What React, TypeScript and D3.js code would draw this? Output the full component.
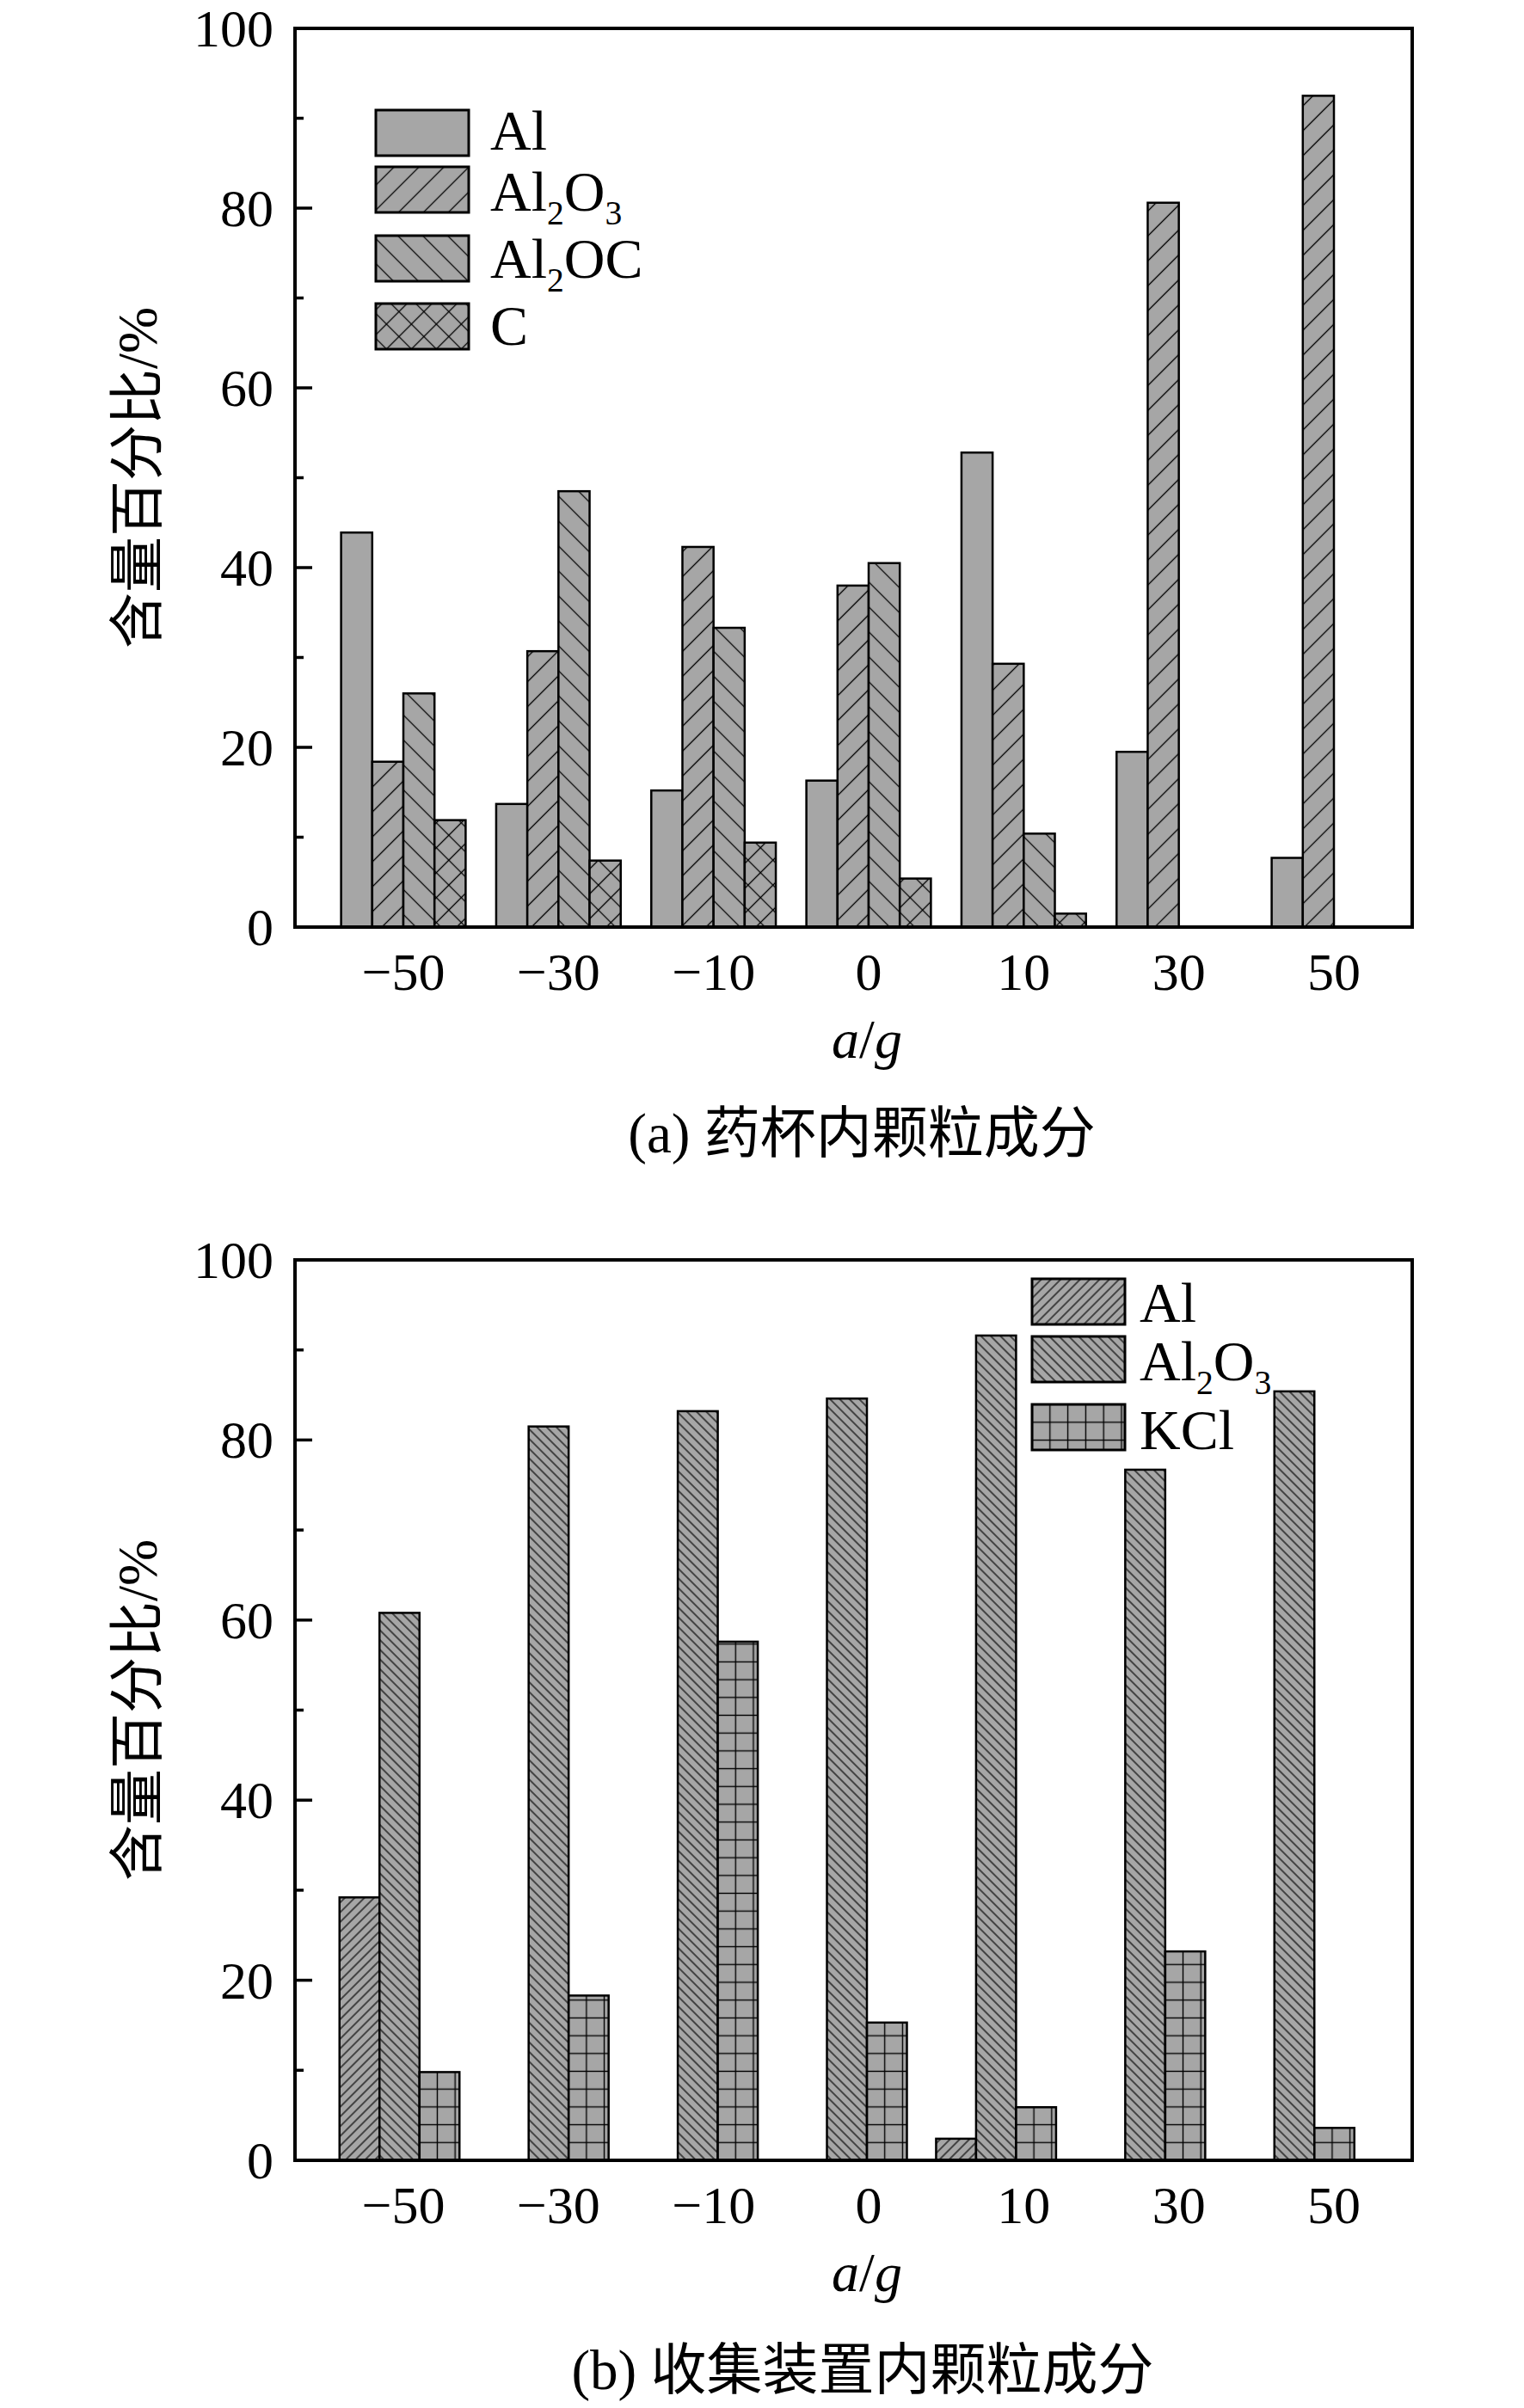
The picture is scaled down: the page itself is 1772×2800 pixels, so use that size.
import React from "react";
import * as d3 from "d3";

// ---------- data ----------
const categories = ["\u221250", "\u221230", "\u221210", "0", "10", "30", "50"];

// (a) 药杯内颗粒成分
const cupSeries = ["Al", "Al2O3", "Al2OC", "C"];
const cupAl = [43.9, 13.7, 15.2, 16.3, 52.8, 19.5, 7.7];
const cupAl2O3 = [18.4, 30.7, 42.3, 38.0, 29.3, 80.6, 92.5];
const cupAl2OC = [26.0, 48.5, 33.3, 40.5, 10.4, 0, 0];
const cupC = [11.9, 7.4, 9.4, 5.4, 1.5, 0, 0];

// (b) 收集装置内颗粒成分
const colSeries = ["Al", "Al2O3", "KCl"];
const colAl = [29.2, 0, 0, 0, 2.4, 0, 0];
const colAl2O3 = [60.8, 81.5, 83.2, 84.6, 91.6, 76.7, 85.4];
const colKCl = [9.8, 18.3, 57.6, 15.3, 5.9, 23.2, 3.6];

const yTicks = [0, 20, 40, 60, 80, 100];
const yMinorTicks = [10, 30, 50, 70, 90];

// ---------- style ----------
const W = 1772;
const H = 2800;
const FONT = "'Liberation Serif','Times New Roman','Noto Sans CJK SC',serif";
const GRAY = "#a6a6a6";
const LEFT = 343;
const RIGHT = 1642;

const panelA = { top: 33, bottom: 1078 };
const panelB = { top: 1465, bottom: 2512 };

// category label / panel (a) group centres
const xCat = d3.scaleLinear().domain([0, 6]).range([469, 1551]);
// panel (b) centre of the middle (Al2O3) bar
const xColB = d3.scaleLinear().domain([0, 6]).range([464.5, 1505]);

const barWA = 36.2;
const barWB = 46.5;

function ChemLabel({ name, x, y, size }: { name: string; x: number; y: number; size: number }) {
  const sub = size * 0.6;
  const dy = size * 0.24;
  if (name === "Al2O3") {
    return (
      <text x={x} y={y} fontFamily={FONT} fontSize={size}>
        Al
        <tspan fontSize={sub} dy={dy}>2</tspan>
        <tspan dy={-dy}>O</tspan>
        <tspan fontSize={sub} dy={dy}>3</tspan>
      </text>
    );
  }
  if (name === "Al2OC") {
    return (
      <text x={x} y={y} fontFamily={FONT} fontSize={size}>
        Al
        <tspan fontSize={sub} dy={dy}>2</tspan>
        <tspan dy={-dy}>OC</tspan>
      </text>
    );
  }
  return (
    <text x={x} y={y} fontFamily={FONT} fontSize={size}>
      {name}
    </text>
  );
}

function HatchPattern({ id, spacing, angle, sw, cross }: { id: string; spacing: number; angle: number; sw: number; cross?: boolean }) {
  return (
    <pattern id={id} patternUnits="userSpaceOnUse" width={spacing} height={spacing} patternTransform={`rotate(${angle})`}>
      <rect width={spacing} height={spacing} fill={GRAY} />
      <line x1={spacing / 2} y1={-1} x2={spacing / 2} y2={spacing + 1} stroke="#000" strokeWidth={sw} />
      {cross && <line x1={-1} y1={spacing / 2} x2={spacing + 1} y2={spacing / 2} stroke="#000" strokeWidth={sw} />}
    </pattern>
  );
}

function GridPattern({ id, x0, y0, s }: { id: string; x0: number; y0: number; s: number }) {
  return (
    <pattern id={id} patternUnits="userSpaceOnUse" width={s} height={s} patternTransform={`translate(${x0 - s / 2},${y0 - s / 2})`}>
      <rect width={s} height={s} fill={GRAY} />
      <line x1={s / 2} y1={-1} x2={s / 2} y2={s + 1} stroke="#000" strokeWidth={1.4} />
      <line x1={-1} y1={s / 2} x2={s + 1} y2={s / 2} stroke="#000" strokeWidth={1.4} />
    </pattern>
  );
}

function Axes({ top, bottom, y }: { top: number; bottom: number; y: d3.ScaleLinear<number, number> }) {
  return (
    <g>
      {yTicks.map((t) => (
        <g key={"t" + t}>
          <line x1={LEFT} x2={LEFT + 20} y1={y(t)} y2={y(t)} stroke="#000" strokeWidth={3.5} />
          <text x={318} y={y(t) + 21} textAnchor="end" fontFamily={FONT} fontSize={62}>
            {t}
          </text>
        </g>
      ))}
      {yMinorTicks.map((t) => (
        <line key={"m" + t} x1={LEFT} x2={LEFT + 10} y1={y(t)} y2={y(t)} stroke="#000" strokeWidth={3.5} />
      ))}
      <rect x={LEFT} y={top} width={RIGHT - LEFT} height={bottom - top} fill="none" stroke="#000" strokeWidth={4} />
      {categories.map((c, i) => (
        <text key={c} x={xCat(i)} y={bottom + 73} textAnchor="middle" fontFamily={FONT} fontSize={62}>
          {c}
        </text>
      ))}
      <text x={1008} y={bottom + 152} textAnchor="middle" fontFamily={FONT} fontSize={64}>
        <tspan fontStyle="italic">a</tspan>
        <tspan>/</tspan>
        <tspan fontStyle="italic">g</tspan>
      </text>
      <text
        transform={`translate(160,${(top + bottom) / 2}) rotate(-90)`}
        textAnchor="middle"
        dominantBaseline="central"
        fontFamily={FONT}
        fontSize={65}
      >
        含量百分比/%
      </text>
    </g>
  );
}

export default function App() {
  const yA = d3.scaleLinear().domain([0, 100]).range([panelA.bottom, panelA.top]);
  const yB = d3.scaleLinear().domain([0, 100]).range([panelB.bottom, panelB.top]);

  const cupData = [cupAl, cupAl2O3, cupAl2OC, cupC];
  const cupFills = [GRAY, "url(#pA1)", "url(#pA2)", "url(#pA3)"];
  const colData = [colAl, colAl2O3, colKCl];
  const colFills = ["url(#pB0)", "url(#pB1)", ""];

  const barsA: JSX.Element[] = [];
  cupData.forEach((vals, s) => {
    vals.forEach((v, i) => {
      if (v <= 0) return;
      const x0 = xCat(i) - 2 * barWA + s * barWA;
      barsA.push(
        <rect key={`a${s}-${i}`} x={x0} y={yA(v)} width={barWA} height={yA(0) - yA(v)} fill={cupFills[s]} stroke="#000" strokeWidth={2.5} />
      );
    });
  });

  const gridDefs: JSX.Element[] = [];
  const barsB: JSX.Element[] = [];
  colData.forEach((vals, s) => {
    vals.forEach((v, i) => {
      if (v <= 0) return;
      const x0 = xColB(i) - 1.5 * barWB + s * barWB;
      let fill = colFills[s];
      if (s === 2) {
        const id = `grid${i}`;
        gridDefs.push(<GridPattern key={id} id={id} x0={x0} y0={yB(0)} s={20.7} />);
        fill = `url(#${id})`;
      }
      barsB.push(
        <rect key={`b${s}-${i}`} x={x0} y={yB(v)} width={barWB} height={yB(0) - yB(v)} fill={fill} stroke="#000" strokeWidth={2.5} />
      );
    });
  });

  const legA = [
    { name: cupSeries[0], fill: cupFills[0], y0: 128, base: 174 },
    { name: cupSeries[1], fill: cupFills[1], y0: 194, base: 245 },
    { name: cupSeries[2], fill: cupFills[2], y0: 274, base: 323 },
    { name: cupSeries[3], fill: cupFills[3], y0: 353, base: 401 },
  ];
  const legB = [
    { name: colSeries[0], fill: "url(#pB0)", y0: 1487, base: 1537 },
    { name: colSeries[1], fill: "url(#pB1)", y0: 1554, base: 1605 },
    { name: colSeries[2], fill: "url(#gridLeg)", y0: 1633, base: 1685 },
  ];

  return (
    <svg width={W} height={H} style={{ position: "absolute", left: 0, top: 0, background: "#fff" }}>
      <defs>
        <HatchPattern id="pA1" spacing={20.5} angle={45} sw={1.3} />
        <HatchPattern id="pA2" spacing={20.5} angle={-45} sw={1.3} />
        <HatchPattern id="pA3" spacing={20.5} angle={45} sw={1.3} cross />
        <HatchPattern id="pB0" spacing={8} angle={45} sw={1.2} />
        <HatchPattern id="pB1" spacing={8} angle={-45} sw={1.2} />
        {gridDefs}
        <GridPattern id="gridLeg" x0={1200} y0={1633} s={20.8} />
      </defs>
      <rect width={W} height={H} fill="#fff" />

      {/* Panel (a) */}
      {barsA}
      <Axes top={panelA.top} bottom={panelA.bottom} y={yA} />
      {legA.map((l) => (
        <g key={"la" + l.name}>
          <rect x={437} y={l.y0} width={108} height={53} fill={l.fill} stroke="#000" strokeWidth={3} />
          <ChemLabel name={l.name} x={570} y={l.base} size={66} />
        </g>
      ))}
      <text x={1002} y={1340} textAnchor="middle" fontFamily={FONT} fontSize={65}>
        (a) 药杯内颗粒成分
      </text>

      {/* Panel (b) */}
      {barsB}
      <Axes top={panelB.top} bottom={panelB.bottom} y={yB} />
      {legB.map((l) => (
        <g key={"lb" + l.name}>
          <rect x={1200} y={l.y0} width={108} height={53} fill={l.fill} stroke="#000" strokeWidth={3} />
          <ChemLabel name={l.name} x={1325} y={l.base} size={66} />
        </g>
      ))}
      <text x={1003} y={2778} textAnchor="middle" fontFamily={FONT} fontSize={65}>
        (b) 收集装置内颗粒成分
      </text>
    </svg>
  );
}
